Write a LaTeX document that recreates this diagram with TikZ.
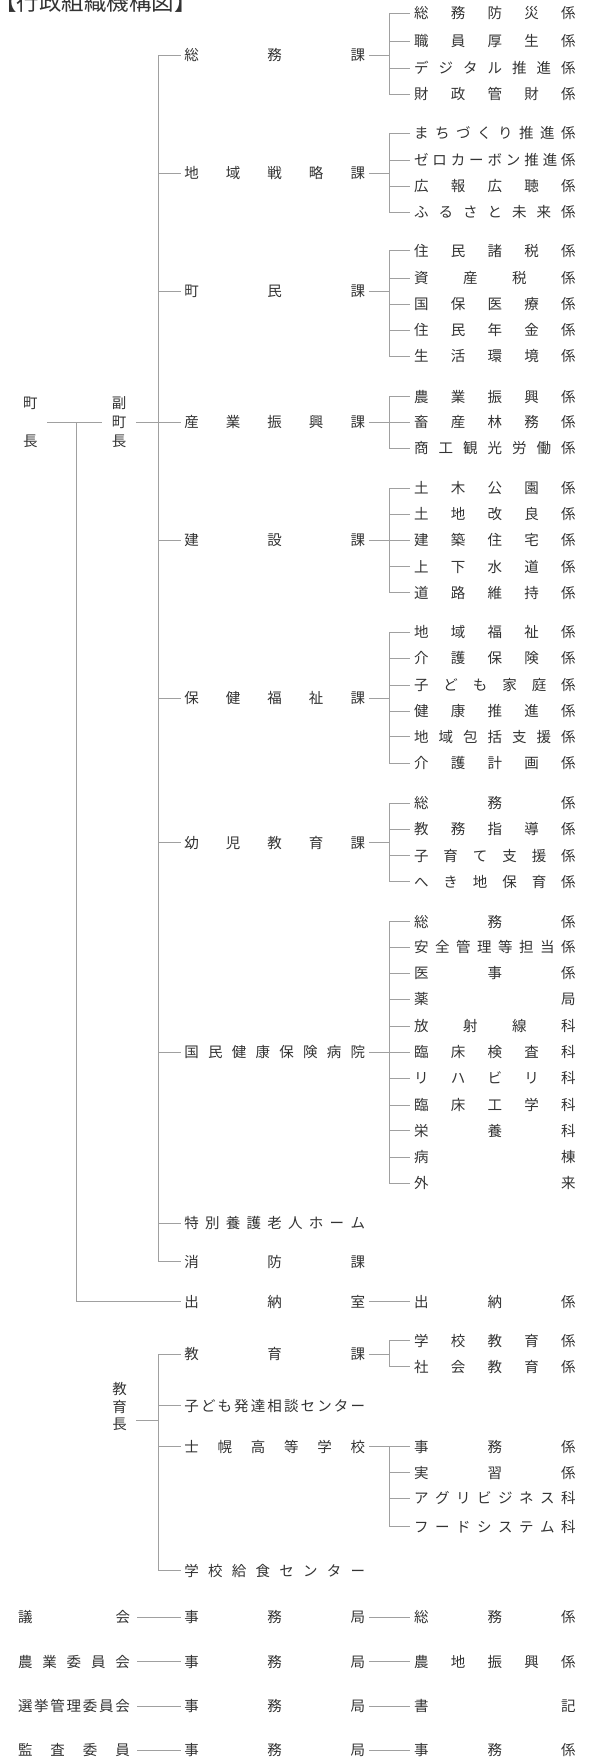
\documentclass[tikz,border=0pt]{standalone}
\usepackage{fontspec}
\setmainfont{Noto Sans CJK JP}
\definecolor{tcol}{HTML}{333333}
\definecolor{lcol}{HTML}{A0A0A0}
\makeatletter
\def\dst@a#1#2{#1\ifx\relax#2\else\hfill\expandafter\dst@a\expandafter#2\fi}
\newcommand\dist[2]{\makebox[#1][s]{\expandafter\dst@a#2\relax}}
\makeatother
\newcommand\secgroup[3]{% #1 division node, #2 count, #3 list y/text
  \foreach \yy/\tx [count=\i] in {#3} {
    \node[sec] (#1s\i) at (410,\yy) {\dist{161.7pt}{\tx}};
    \draw[ln] (sbus |- #1s\i.west) -- (#1s\i.west);
  }
  \draw[ln] (#1s1.west) -| (sbus |- #1s#2.west) -- (#1s#2.west);
  \draw[ln] (#1.east) -- (sbus |- #1.east);
}
\begin{document}
\begin{tikzpicture}[x=1pt,y=-1pt,
  ln/.style={draw=lcol,line width=0.8pt},
  base/.style={inner sep=0pt,text height=12.7pt,text depth=1.8pt,text=tcol,
    font=\fontsize{14.5pt}{14.5pt}\selectfont},
  div/.style={base,anchor=west,outer xsep=3.8pt},
  sec/.style={base,anchor=west,outer xsep=4pt},
  lft/.style={base,anchor=west,outer xsep=7pt},
  vt/.style={inner sep=0pt,outer xsep=9.5pt,align=center,text=tcol}]
\useasboundingbox (0,0) rectangle (590,1760);
\coordinate (lbus) at (76,0);
\coordinate (mbus) at (158,0);
\coordinate (sbus) at (389.5,0);

\node[anchor=base west,inner sep=0pt,text=tcol,font=\fontsize{22.5pt}{22.5pt}\selectfont] (title) at (-6,10.5) {【行政組織機構図】};

% executives
\node[vt,font=\fontsize{14.5pt}{37.7pt}\selectfont] (chou) at (30.5,422.2) {町\\長};
\node[vt,font=\fontsize{14.5pt}{18.8pt}\selectfont] (fuku) at (119,422.2) {副\\町\\長};
\node[vt,font=\fontsize{14.5pt}{17.4pt}\selectfont] (kyo) at (119.5,1406.7) {教\\育\\長};

% divisions
\node[div] (d1) at (180.6,55.5) {\dist{180.6pt}{総務課}};
\node[div] (d2) at (180.6,173) {\dist{180.6pt}{地域戦略課}};
\node[div] (d3) at (180.6,291.5) {\dist{180.6pt}{町民課}};
\node[div] (d4) at (180.6,422.3) {\dist{180.6pt}{産業振興課}};
\node[div] (d5) at (180.6,540) {\dist{180.6pt}{建設課}};
\node[div] (d6) at (180.6,698.3) {\dist{180.6pt}{保健福祉課}};
\node[div] (d7) at (180.6,842.7) {\dist{180.6pt}{幼児教育課}};
\node[div] (d8) at (180.6,1052.3) {\dist{180.6pt}{国民健康保険病院}};
\node[div] (d9) at (180.6,1223.3) {\dist{180.6pt}{特別養護老人ホーム}};
\node[div] (d10) at (180.6,1261.7) {\dist{180.6pt}{消防課}};
\node[div] (d11) at (180.6,1301.7) {\dist{180.6pt}{出納室}};
\node[div] (e1) at (180.6,1354.3) {\dist{180.6pt}{教育課}};
\node[div] (e2) at (180.6,1405.7) {\dist{180.6pt}{子ども発達相談センター}};
\node[div] (e3) at (180.6,1446.7) {\dist{180.6pt}{士幌高等学校}};
\node[div] (e4) at (180.6,1570.7) {\dist{180.6pt}{学校給食センター}};

% sections
\secgroup{d1}{4}{13.5/総務防災係,41.5/職員厚生係,68.3/デジタル推進係,94.3/財政管財係}
\secgroup{d2}{4}{133.3/まちづくり推進係,160/ゼロカーボン推進係,186/広報広聴係,212.3/ふるさと未来係}
\secgroup{d3}{5}{250.7/住民諸税係,278.3/資産税係,304/国保医療係,330/住民年金係,356/生活環境係}
\secgroup{d4}{3}{396.7/農業振興係,422.3/畜産林務係,448.3/商工観光労働係}
\secgroup{d5}{5}{488.3/土木公園係,514.3/土地改良係,540/建築住宅係,566.7/上下水道係,592.7/道路維持係}
\secgroup{d6}{6}{632.3/地域福祉係,658.3/介護保険係,685/子ども家庭係,711/健康推進係,736.7/地域包括支援係,763.3/介護計画係}
\secgroup{d7}{4}{803.3/総務係,829.3/教務指導係,855.7/子育て支援係,881.7/へき地保育係}
\secgroup{d8}{11}{921.7/総務係,947.3/安全管理等担当係,973.3/医事係,999.3/薬局,1026/放射線科,1052.3/臨床検査科,1078.3/リハビリ科,1105/臨床工学科,1130.7/栄養科,1157.3/病棟,1183.3/外来}
\secgroup{e1}{2}{1340.7/学校教育係,1366.7/社会教育係}
\secgroup{e3}{4}{1446.7/事務係,1472.7/実習係,1498.3/アグリビジネス科,1526.7/フードシステム科}
\node[sec] (d11s1) at (410,1301.7) {\dist{161.7pt}{出納係}};
\draw[ln] (d11.east) -- (d11s1.west);

% main structure
\draw[ln] (chou.east) -- (fuku.west);
\draw[ln] (lbus |- chou.east) -- (lbus |- d11.west) -- (d11.west);
\draw[ln] (fuku.east) -- (mbus |- fuku.east);
\draw[ln] (d1.west) -| (mbus |- d10.west) -- (d10.west);
\foreach \d in {d2,d3,d4,d5,d6,d7,d8,d9} {\draw[ln] (mbus |- \d.west) -- (\d.west);}
\draw[ln] (e1.west) -| (mbus |- e4.west) -- (e4.west);
\foreach \d in {e2,e3} {\draw[ln] (mbus |- \d.west) -- (\d.west);}
\draw[ln] ([yshift=-13.3pt]kyo.east) -- (mbus |- e1.west |- 0,1420);

% committees
\foreach \yy/\a/\c [count=\i] in {1617.3/議会/総務係,1661.7/農業委員会/農地振興係,1706/選挙管理委員会/書記,1750/監査委員/事務係} {
  \node[lft] (b\i) at (11,\yy) {\dist{112pt}{\a}};
  \node[div] (m\i) at (180.6,\yy) {\dist{180.6pt}{事務局}};
  \node[sec] (r\i) at (410,\yy) {\dist{161.7pt}{\c}};
  \draw[ln] (b\i.east) -- (m\i.west);
  \draw[ln] (m\i.east) -- (r\i.west);
}
\end{tikzpicture}
\end{document}
